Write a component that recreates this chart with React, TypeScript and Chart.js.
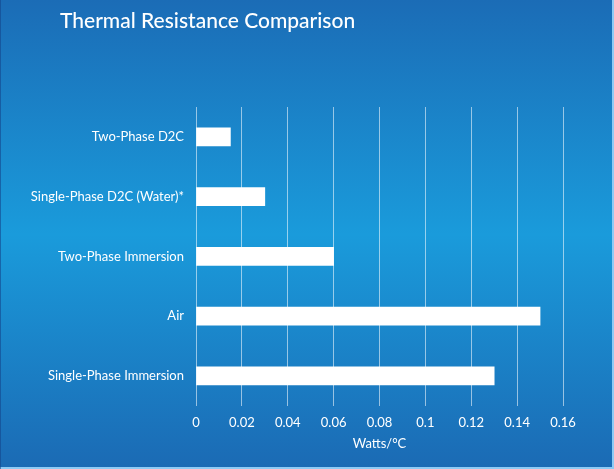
import React, { useEffect, useRef } from "react";
import { Chart, registerables } from "chart.js";

Chart.register(...registerables);

const categories = [
  "Two-Phase D2C",
  "Single-Phase D2C (Water)*",
  "Two-Phase Immersion",
  "Air",
  "Single-Phase Immersion",
];
const values = [0.015, 0.03, 0.06, 0.15, 0.13];
const titleText = "Thermal Resistance Comparison";
const axisTitle = "Watts/°C";
const xMin = 0;
const xMax = 0.16;
const xStep = 0.02;

const FONT = "Lato, 'Open Sans', sans-serif";

const bgPlugin = {
  id: "bgPlugin",
  beforeDraw(chart: any) {
    const { ctx, width, height } = chart;
    ctx.save();
    const g = ctx.createLinearGradient(0, 0, 0, height);
    g.addColorStop(0, "#1b6cb6");
    g.addColorStop(0.5, "#1a9bdb");
    g.addColorStop(1, "#1b6ab4");
    ctx.fillStyle = g;
    ctx.fillRect(0, 0, width, height);
    ctx.fillStyle = "#8ecbf5";
    ctx.fillRect(width - 2, 0, 2, height);
    ctx.fillRect(0, height - 2, width, 2);
    ctx.fillStyle = "rgba(20,70,140,0.6)";
    ctx.fillRect(0, 0, 1, height);
    ctx.restore();
  },
  afterDraw(chart: any) {
    const { ctx } = chart;
    ctx.save();
    ctx.fillStyle = "#ffffff";
    ctx.font = `500 21px ${FONT}`;
    ctx.textAlign = "left";
    ctx.textBaseline = "alphabetic";
    ctx.fillText(titleText, 60, 28);
    ctx.restore();
  },
};

export default function App() {
  const ref = useRef<HTMLCanvasElement>(null);
  useEffect(() => {
    document.body.style.margin = "0";
    const chart = new Chart(ref.current!, {
      type: "bar",
      data: {
        labels: categories,
        datasets: [
          {
            data: values,
            backgroundColor: "#ffffff",
            borderWidth: 0,
            barThickness: 18,
          },
        ],
      },
      plugins: [bgPlugin],
      options: {
        indexAxis: "y",
        animation: false,
        responsive: false,
        maintainAspectRatio: false,
        layout: { padding: { top: 107, right: 51, bottom: 17, left: 0 } },
        plugins: {
          legend: { display: false },
          title: { display: false },
          tooltip: { enabled: false },
        },
        scales: {
          x: {
            min: xMin,
            max: xMax,
            ticks: {
              stepSize: xStep,
              color: "#ffffff",
              font: { family: FONT, size: 13 },
              padding: 9,
              callback: (v: any) => String(Math.round(Number(v) * 100) / 100),
            },
            grid: {
              color: "rgba(255,255,255,0.55)",
              lineWidth: 1,
              drawTicks: false,
            },
            border: { display: false },
            title: {
              display: true,
              text: axisTitle,
              color: "#ffffff",
              font: { family: FONT, size: 13 },
              padding: { top: -3, bottom: 0 },
            },
          },
          y: {
            ticks: {
              color: "#ffffff",
              font: { family: FONT, size: 13 },
              padding: 12,
            },
            grid: { display: false, drawTicks: false },
            border: { display: false },
            afterFit: (scale: any) => {
              scale.width = 196;
            },
          },
        },
      },
    });
    return () => chart.destroy();
  }, []);
  return (
    <div style={{ width: 614, height: 469 }}>
      <canvas ref={ref} width={614} height={469} style={{ display: "block" }} />
    </div>
  );
}
